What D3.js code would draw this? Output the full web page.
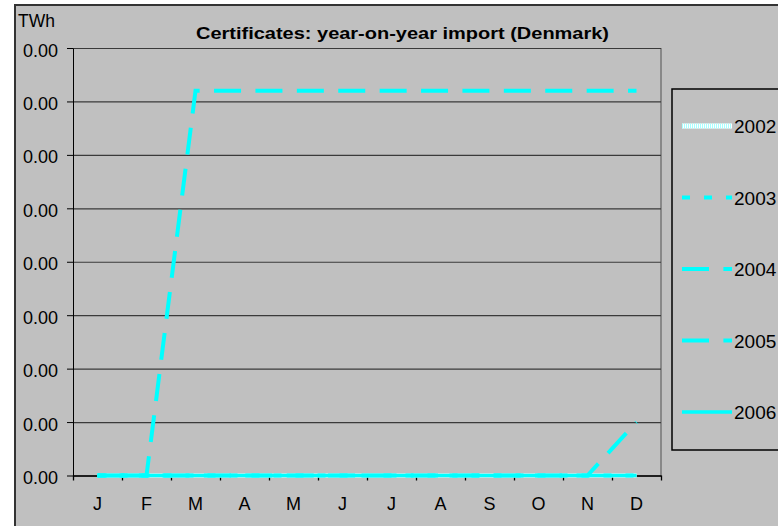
<!DOCTYPE html>
<html>
<head>
<meta charset="utf-8">
<script src="https://cdn.jsdelivr.net/npm/d3@7"></script>
<style>
  body { margin: 0; background: #fff; }
  svg { display: block; font-family: "Liberation Sans", Arial, sans-serif; }
</style>
</head>
<body>
<svg id="chart" width="778" height="526"></svg>
<script>
// data
const months = ['J', 'F', 'M', 'A', 'M', 'J', 'J', 'A', 'S', 'O', 'N', 'D'];
const years = ['2002', '2003', '2004', '2005', '2006'];
const v2002 = [0, 0, 0, 0, 0, 0, 0, 0, 0, 0, 0, 0];
const v2003 = [0, 0, 0, 0, 0, 0, 0, 0, 0, 0, 0, 0];
const v2004 = [0, 0, 0.0036, 0.0036, 0.0036, 0.0036, 0.0036, 0.0036, 0.0036, 0.0036, 0.0036, 0.0036];
const v2005 = [0, 0, 0, 0, 0, 0, 0, 0, 0, 0, 0, 0.0005];
const v2006 = [0, 0, 0, 0, 0, 0, 0, 0, 0, 0, 0, 0];
const yTicks = [0, 0.0005, 0.001, 0.0015, 0.002, 0.0025, 0.003, 0.0035, 0.004];

const seriesValues = [v2002, v2003, v2004, v2005, v2006];
const series = years.map((y, i) => ({ name: y, values: seriesValues[i] }));

// line looks per year
const looks = {
    '2002': { color: '#a8ffff', dash: '1,1', width: 4, under: '#ffffff', offset: 0 },
    '2003': { color: '#00ffff', dash: '8,14', width: 4, offset: 0 },
    '2004': { color: '#00ffff', dash: '27,14.4', width: 4, offset: 0 },
    '2005': { color: '#00ffff', dash: '27,14.4', width: 4, offset: 17.8 },
    '2006': { color: '#00ffff', dash: null, width: 3.5, offset: 0 }
};

const svg = d3.select('#chart');
const plotLeft = 73, plotRight = 661, plotTop = 48, plotBottom = 475.5;

// chart area
svg.append('rect')
    .attr('x', 15).attr('y', 5)
    .attr('width', 800).attr('height', 600)
    .attr('fill', '#c0c0c0')
    .attr('stroke', '#333').attr('stroke-width', 2);

const xEdge = d3.scaleLinear().domain([0, 12]).range([plotLeft, plotRight]);
const xBand = d3.scaleBand().domain(d3.range(12)).range([plotLeft, plotRight]);
const y = d3.scaleLinear().domain([0, 0.004]).range([plotBottom, plotTop]);

// plot area right border
svg.append('line')
    .attr('x1', plotRight).attr('x2', plotRight)
    .attr('y1', plotTop).attr('y2', plotBottom)
    .attr('stroke', '#888').attr('stroke-width', 2);

// gridlines
svg.append('g')
    .attr('transform', `translate(${plotLeft},0)`)
    .call(d3.axisLeft(y).tickValues(yTicks).tickSize(-(plotRight - plotLeft)).tickFormat(''))
    .call(g => g.select('.domain').remove())
    .call(g => g.selectAll('line').attr('stroke', '#3a3a3a').attr('stroke-width', 1.2));

// y axis
svg.append('g')
    .attr('transform', `translate(${plotLeft},0)`)
    .call(d3.axisLeft(y).tickValues(yTicks).tickFormat(d3.format('.2f')).tickSize(6).tickPadding(9).tickSizeOuter(0))
    .call(g => g.selectAll('text').attr('font-size', 18).attr('fill', '#000').attr('dy', '0.45em').attr('font-family', null))
    .call(g => g.selectAll('line, .domain').attr('stroke', '#000'));

// x axis tick marks at month boundaries
svg.append('g')
    .attr('transform', `translate(0,${plotBottom})`)
    .call(d3.axisBottom(xEdge).ticks(12).tickSize(5).tickSizeOuter(0).tickFormat(''))
    .call(g => g.selectAll('line, .domain').attr('stroke', '#000').attr('stroke-width', 1.3));

// month labels
svg.append('g')
    .attr('transform', `translate(0,${plotBottom})`)
    .call(d3.axisBottom(xBand).tickSize(0).tickPadding(22).tickFormat(i => months[i]))
    .call(g => g.select('.domain').remove())
    .call(g => g.selectAll('text').attr('font-size', 18).attr('fill', '#000').attr('font-family', null));

// lines
const line = d3.line()
    .x((d, i) => xBand(i) + xBand.bandwidth() / 2)
    .y(d => y(d));

series.forEach(s => {
    const lk = looks[s.name];
    if (lk.under) {
        svg.append('path').datum(s.values)
            .attr('d', line).attr('fill', 'none')
            .attr('stroke', lk.under).attr('stroke-width', lk.width);
    }
    svg.append('path').datum(s.values)
        .attr('d', line)
        .attr('fill', 'none')
        .attr('stroke', lk.color)
        .attr('stroke-width', lk.width)
        .attr('stroke-dasharray', lk.dash)
        .attr('stroke-dashoffset', lk.offset)
        .attr('stroke-linejoin', 'miter');
});

// title and unit (title is drawn wide, like the original)
svg.append('text')
    .attr('x', 196).attr('y', 39)
    .attr('font-size', 16.5).attr('font-weight', 'bold')
    .attr('textLength', 413).attr('lengthAdjust', 'spacingAndGlyphs')
    .text('Certificates: year-on-year import (Denmark)');

svg.append('text')
    .attr('x', 18).attr('y', 27)
    .attr('font-size', 17.5)
    .text('TWh');

// legend
const legend = svg.append('g');
legend.append('rect')
    .attr('x', 672).attr('y', 89)
    .attr('width', 200).attr('height', 361)
    .attr('fill', 'none').attr('stroke', '#000').attr('stroke-width', 1.5);

const ly = d3.scalePoint().domain(years).range([126, 412]);

years.forEach(name => {
    const lk = looks[name];
    const yy = ly(name);
    if (lk.under) {
        legend.append('line')
            .attr('x1', 682).attr('x2', 732).attr('y1', yy).attr('y2', yy)
            .attr('stroke', lk.under).attr('stroke-width', lk.width + 1);
    }
    legend.append('line')
        .attr('x1', 682).attr('x2', 732).attr('y1', yy).attr('y2', yy)
        .attr('stroke', lk.color)
        .attr('stroke-width', lk.under ? lk.width + 1 : lk.width)
        .attr('stroke-dasharray', lk.dash);
    legend.append('text')
        .attr('x', 734).attr('y', yy + 7)
        .attr('font-size', 19)
        .text(name);
});
</script>
</body>
</html>
